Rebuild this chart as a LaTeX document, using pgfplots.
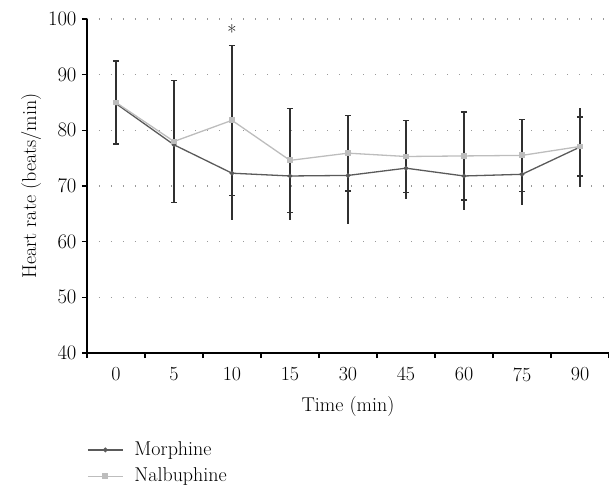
\documentclass[border=0pt]{standalone}
\usepackage{pgfplots}
\pgfplotsset{compat=1.18}
\definecolor{morph}{HTML}{5A5A5A}
\definecolor{nalb}{HTML}{BDBDBD}
\definecolor{ebar}{HTML}{303030}
\definecolor{gridc}{HTML}{9A9A9A}
\begin{document}
\begin{tikzpicture}[font=\fontsize{20bp}{23bp}\selectfont]
\begin{axis}[
  scale only axis,
  width=522bp, height=334bp,
  xmin=-0.5, xmax=8.5,
  ymin=40, ymax=100,
  axis x line=bottom, axis y line=left,
  axis line style={-, line width=1.1bp, black},
  xtick={0,...,8},
  xticklabels={0,5,10,15,30,45,60,75,90},
  major x tick style={draw=none},
  minor xtick={-0.5,0.5,...,8.5},
  ytick={40,50,...,100},
  tick align=outside,
  major tick length=5bp, minor tick length=5bp,
  tick style={line width=1.1bp, black},
  ymajorgrids=true,
  major grid style={gridc, line width=1.3bp, dash pattern=on 1.3bp off 10.7bp},
  xticklabel style={yshift=-6bp},
  yticklabel style={xshift=-2bp},
  xlabel={Time (min)},
  ylabel={Heart rate (beats/min)},
  xlabel style={yshift=-8bp},
  ylabel style={yshift=0bp},
  clip=false,
  legend style={at={(0,-0.262)}, anchor=north west, draw=none, fill=none,
    inner sep=0pt, row sep=8bp, column sep=10bp, nodes={inner sep=1bp, text depth=0.25em}},
  legend cell align=left,
  legend image code/.code={\draw[#1, mark repeat=2, mark phase=2] plot coordinates {(0bp,0bp) (17.5bp,0bp) (35bp,0bp)};},
]
\addplot[color=morph, line width=1.3bp, mark=*, mark size=1.7bp, mark options={fill=morph, draw=morph},
  error bars/.cd, y dir=both, y explicit,
  error bar style={ebar, line width=1.2bp}, error mark=none]
coordinates {
 (0,84.8) +- (0,7.4)
 (1,77.4) +- (0,10.0)
 (2,72.3) +- (0,8.4)
 (3,71.8) +- (0,7.9)
 (4,71.9) +- (0,8.8)
 (5,73.2) +- (0,5.5)
 (6,71.8) +- (0,6.2)
 (7,72.1) +- (0,5.5)
 (8,77.0) +- (0,7.1)
};
\addlegendentry{Morphine}
\addplot[color=nalb, line width=1.3bp, mark=square*, mark size=2.3bp, mark options={fill=nalb, draw=nalb},
  error bars/.cd, y dir=both, y explicit,
  error bar style={ebar, line width=1.2bp},
  error mark options={rotate=90, mark size=3bp, line width=1.2bp, ebar}]
coordinates {
 (0,85.0) +- (0,7.45)
 (1,78.0) +- (0,10.9)
 (2,81.8) +- (0,13.5)
 (3,74.6) +- (0,9.3)
 (4,75.9) +- (0,6.8)
 (5,75.3) +- (0,6.4)
 (6,75.4) +- (0,7.9)
 (7,75.5) +- (0,6.5)
 (8,77.1) +- (0,5.3)
};
\addlegendentry{Nalbuphine}
\node at (axis cs:2,97.7) {*};
\end{axis}
\pgfresetboundingbox
\path (current axis.south west) ++(-87bp,-134bp) rectangle ++(609bp,487bp);
\end{tikzpicture}
\end{document}
